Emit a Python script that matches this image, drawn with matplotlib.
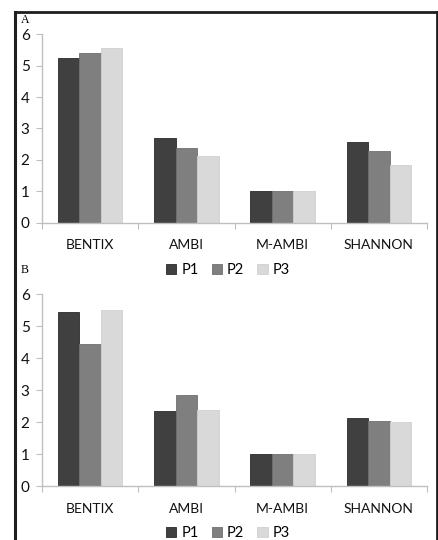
import matplotlib
matplotlib.use("Agg")
import matplotlib.pyplot as plt
from matplotlib.lines import Line2D
from matplotlib.patches import Patch
import numpy as np

categories = ["BENTIX", "AMBI", "M-AMBI", "SHANNON"]
series_names = ["P1", "P2", "P3"]
panel_a = {
    "P1": [5.26, 2.69, 1.0, 2.57],
    "P2": [5.42, 2.38, 1.0, 2.29],
    "P3": [5.56, 2.13, 1.0, 1.83],
}
panel_b = {
    "P1": [5.45, 2.34, 1.0, 2.14],
    "P2": [4.43, 2.86, 1.0, 2.04],
    "P3": [5.51, 2.39, 1.0, 2.00],
}
panel_labels = ["A", "B"]
yticks = [0, 1, 2, 3, 4, 5, 6]

colors = ["#404040", "#7f7f7f", "#d9d9d9"]
edges = ["#2a2a2a", "#707070", "#d0d0d0"]

plt.rcParams['font.family'] = ['Lato', 'DejaVu Sans']

W, H = 438, 540
fig = plt.figure(figsize=(W / 100, H / 100), dpi=100)

def fx(px):
    return px / W

def fy(py):
    return 1 - py / H

axes_specs = [
    (42, 427, 34.3, 222.7),
    (42, 427, 294.3, 486.0),
]
legend_y = [270, 533]
label_pos = [(21, 20), (21, 270)]

width = 0.223
x = np.arange(len(categories))
spine_col = "#bfbfbf"

for i, (data, spec) in enumerate(zip([panel_a, panel_b], axes_specs)):
    l, r, t, b = spec
    ax = fig.add_axes([fx(l), fy(b), fx(r) - fx(l), fy(t) - fy(b)])
    for j, name in enumerate(series_names):
        ax.bar(x + (j - 1) * width, data[name], width, color=colors[j],
               edgecolor=edges[j], linewidth=0.6, label=name, zorder=2)
    ax.set_xlim(-0.5, len(categories) - 0.5)
    ax.set_ylim(0, 6)
    ax.set_yticks(yticks)
    ax.set_yticklabels([str(v) for v in yticks])
    ax.tick_params(axis='y', direction='out', length=4, width=0.8,
                   color=spine_col, labelsize=11, pad=5, labelcolor="#111111")
    ax.set_xticks(np.arange(-0.5, len(categories), 1.0))
    ax.set_xticklabels([])
    ax.tick_params(axis='x', which='major', direction='out', length=4,
                   width=0.8, color=spine_col)
    ax.set_xticks(x, minor=True)
    ax.set_xticklabels(categories, minor=True)
    ax.tick_params(axis='x', which='minor', length=0, labelsize=10,
                   pad=12, labelcolor="#111111")
    for s in ["top", "right"]:
        ax.spines[s].set_visible(False)
    for s in ["left", "bottom"]:
        ax.spines[s].set_color(spine_col)
        ax.spines[s].set_linewidth(1.0)
    ax.set_facecolor("none")

    handles = [Patch(facecolor=colors[j], edgecolor=edges[j], linewidth=0.6)
               for j in range(3)]
    fig.legend(handles, series_names, loc="center",
               bbox_to_anchor=(fx(228), fy(legend_y[i])), ncol=3, frameon=False,
               fontsize=10.5, handlelength=0.7, handleheight=0.7,
               handletextpad=0.35, columnspacing=0.9, borderaxespad=0,
               borderpad=0.1)

    lx, ly = label_pos[i]
    fig.text(fx(lx), fy(ly), panel_labels[i], fontsize=8.5,
             family=['Liberation Serif', 'DejaVu Serif'], ha="left", va="center")

border_col = "#1e1e1e"
fig.add_artist(Line2D([fx(14.5), fx(14.5)], [fy(540), fy(12)], color=border_col,
                      linewidth=2.2, transform=fig.transFigure))
fig.add_artist(Line2D([fx(14.5), fx(436.7)], [fy(12), fy(12)], color=border_col,
                      linewidth=2.0, transform=fig.transFigure))
fig.add_artist(Line2D([fx(436.7), fx(436.7)], [fy(12), fy(540)], color=border_col,
                      linewidth=2.0, transform=fig.transFigure))

fig.savefig("out.png", dpi=100)
